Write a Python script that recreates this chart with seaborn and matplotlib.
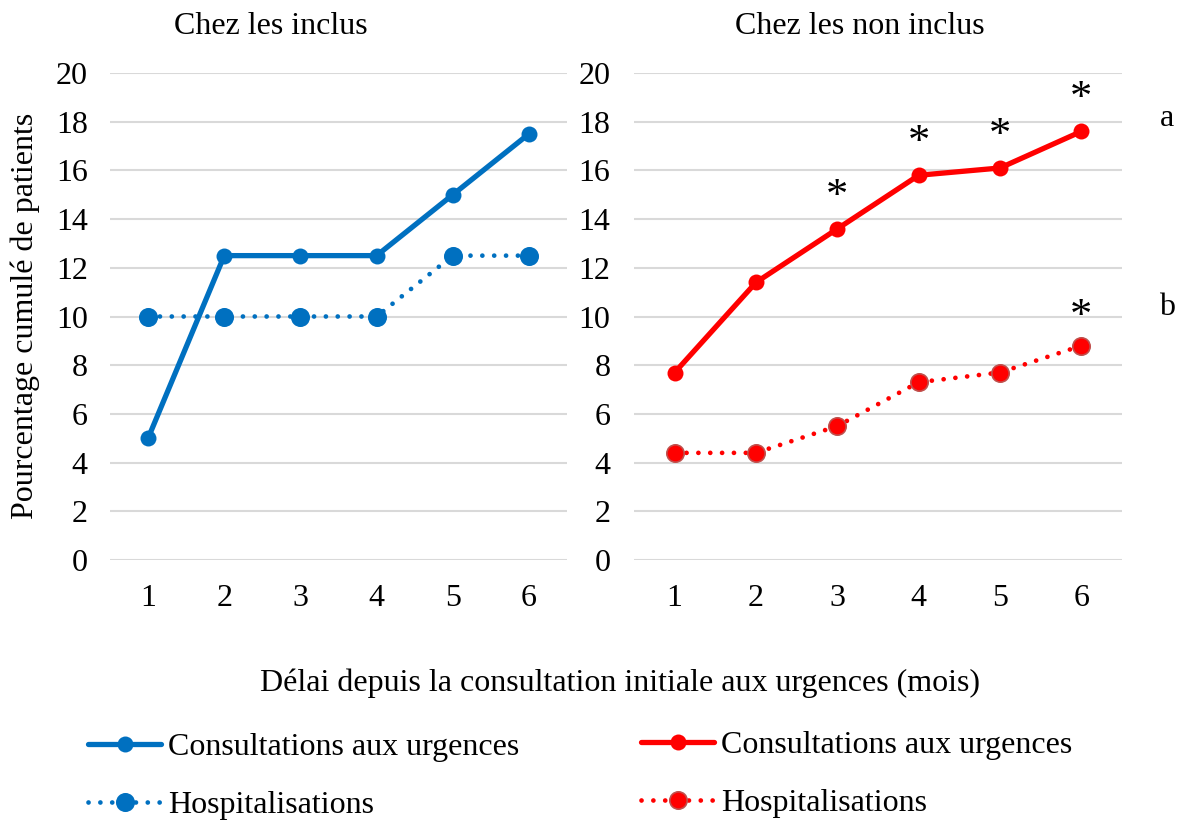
import matplotlib
matplotlib.use("Agg")
import matplotlib.pyplot as plt
import seaborn as sns
import pandas as pd
from matplotlib.lines import Line2D

months = [1, 2, 3, 4, 5, 6]
inclus_consult = [5, 12.5, 12.5, 12.5, 15, 17.5]
inclus_hosp = [10, 10, 10, 10, 12.5, 12.5]
noninclus_consult = [7.7, 11.4, 13.6, 15.8, 16.1, 17.6]
noninclus_hosp = [4.4, 4.4, 5.5, 7.3, 7.7, 8.8]
consult_signif = [3, 4, 5, 6]
hosp_signif = [6]
yticks = [0, 2, 4, 6, 8, 10, 12, 14, 16, 18, 20]

titles = ["Chez les inclus", "Chez les non inclus"]
ylabel = "Pourcentage cumulé de patients"
xlabel = "Délai depuis la consultation initiale aux urgences (mois)"
lab_consult = "Consultations aux urgences"
lab_hosp = "Hospitalisations"

sns.set_style("white")
plt.rcParams['font.family'] = ['Liberation Serif', 'DejaVu Serif']
for k in ["text.color", "axes.labelcolor", "xtick.color", "ytick.color"]:
    plt.rcParams[k] = "black"
FS = 23

BLUE = "#0070C0"
RED = "#FF0000"

fig = plt.figure(figsize=(11.82, 8.23), dpi=100)
W, H = 1182, 823

def px_axes(x0, x1, ytop, ybot):
    return fig.add_axes([x0 / W, 1 - ybot / H, (x1 - x0) / W, (ybot - ytop) / H])

ax1 = px_axes(110, 567, 73, 560)
ax2 = px_axes(634, 1122, 73, 560)

dot = (0, (0.01, 2.5))
HOSP_LW = 3.4
CONS_LW = 3.8

def draw(ax, consult, hosp, color, hosp_edge, ypad):
    df = pd.DataFrame({"mois": months, "consult": consult, "hosp": hosp})
    sns.lineplot(data=df, x="mois", y="hosp", ax=ax, color=color, lw=HOSP_LW,
                 linestyle=dot, marker="o", markersize=12.5, markeredgewidth=1.2,
                 markeredgecolor=hosp_edge, dash_capstyle="round")
    sns.lineplot(data=df, x="mois", y="consult", ax=ax, color=color, lw=CONS_LW,
                 marker="o", markersize=11.5, markeredgewidth=0, solid_capstyle="round")
    ax.set_xlim(0.5, 6.5)
    ax.set_ylim(0, 20)
    ax.set_yticks(yticks)
    ax.set_xticks(months)
    ax.set_xticklabels([str(m) for m in months])
    ax.yaxis.grid(True, color="#D9D9D9", lw=1.5)
    ax.xaxis.grid(False)
    ax.set_axisbelow(True)
    for s in ax.spines.values():
        s.set_visible(False)
    ax.tick_params(axis="both", length=0, labelsize=FS)
    ax.tick_params(axis="y", pad=ypad)
    ax.tick_params(axis="x", pad=17)
    ax.set_xlabel("")
    ax.set_ylabel("")

draw(ax1, inclus_consult, inclus_hosp, BLUE, BLUE, 16)
draw(ax2, noninclus_consult, noninclus_hosp, RED, "#C0504D", 17)

fig.text(271 / W, 1 - 27 / H, titles[0], ha="center", va="center", fontsize=FS)
fig.text(860 / W, 1 - 27 / H, titles[1], ha="center", va="center", fontsize=FS)
fig.text(25 / W, 1 - 316 / H, ylabel, ha="center", va="center", rotation=90, fontsize=FS)

for m in consult_signif:
    v = noninclus_consult[months.index(m)]
    ax2.text(m, v + 0.5, "*", ha="center", va="bottom", fontsize=FS + 9)
for m in hosp_signif:
    v = noninclus_hosp[months.index(m)]
    ax2.text(m, v + 0.35, "*", ha="center", va="bottom", fontsize=FS + 9)

ax2.text(7.05, 18.15, "a", ha="center", va="center", fontsize=FS, clip_on=False)
ax2.text(7.05, 10.35, "b", ha="center", va="center", fontsize=FS, clip_on=False)

fig.text(620 / W, 1 - 683 / H, xlabel, ha="center", va="center", fontsize=FS)

def handles(color, edge):
    h1 = Line2D([], [], color=color, lw=CONS_LW, marker="o", markersize=11.5, markeredgewidth=0)
    h2 = Line2D([], [], color=color, lw=HOSP_LW, linestyle=dot, marker="o", markersize=12.5,
                markeredgewidth=1.2, markeredgecolor=edge, dash_capstyle="round")
    return [h1, h2]

leg_kw = dict(fontsize=FS, frameon=False, handlelength=2.3, handletextpad=0.2,
              labelspacing=0.9, loc="upper left", borderaxespad=0, borderpad=0)
l1 = fig.legend(handles(BLUE, BLUE), [lab_consult, lab_hosp],
                bbox_to_anchor=(88 / W, 1 - 733 / H), **leg_kw)
l2 = fig.legend(handles(RED, "#C0504D"), [lab_consult, lab_hosp],
                bbox_to_anchor=(641 / W, 1 - 731 / H), **leg_kw)

fig.savefig("out.png", dpi=100)
